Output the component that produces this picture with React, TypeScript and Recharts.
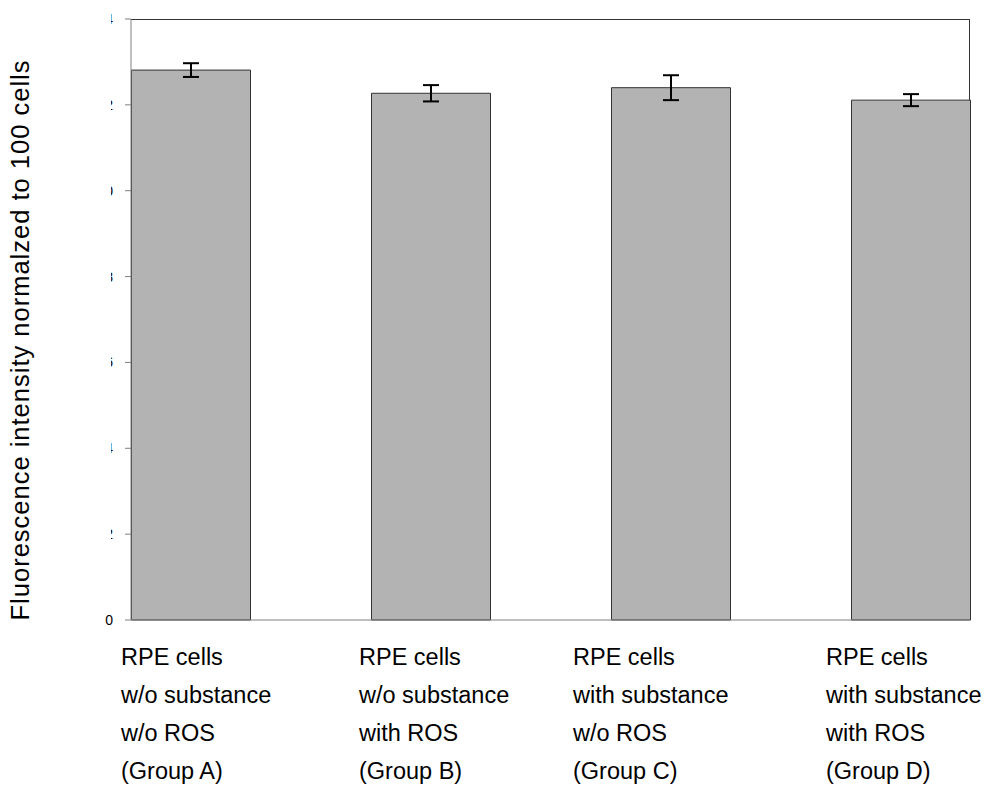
import React from 'react';
import { BarChart, Bar, XAxis, YAxis, ErrorBar } from 'recharts';

const groups = ['Group A', 'Group B', 'Group C', 'Group D'];
const substanceLabels = ['w/o substance', 'w/o substance', 'with substance', 'with substance'];
const rosLabels = ['w/o ROS', 'with ROS', 'w/o ROS', 'with ROS'];
const values = [12.81, 12.27, 12.4, 12.11];
const errors = [0.16, 0.19, 0.29, 0.14];
const yTicks = [0, 2, 4, 6, 8, 10, 12, 14];

const data = groups.map((g, i) => ({
  name: g,
  substance: substanceLabels[i],
  ros: rosLabels[i],
  value: values[i],
  err: errors[i],
}));

const FONT = 'Liberation Sans, Arial, sans-serif';
const labelDx = [-69.5, -71.5, -97.5, -84.5];

const XTick = (props: any) => {
  const { x, index } = props;
  const d = data[index] || data[0];
  const left = x + labelDx[index];
  const lines = ['RPE cells', d.substance, d.ros, '(' + d.name + ')'];
  return (
    <g>
      {lines.map((t, i) => (
        <text key={i} x={left} y={665 + i * 38} fontFamily={FONT} fontSize={23.5} fill="#000">
          {t}
        </text>
      ))}
    </g>
  );
};

const YTick = (props: any) => {
  const { y, payload } = props;
  const v = payload.value;
  if (v === 0) {
    return (
      <text x={113} y={y + 5} textAnchor="end" fontFamily={FONT} fontSize={14} fill="#000">
        {v}
      </text>
    );
  }
  const id = 'yclip' + v;
  return (
    <g>
      <defs>
        <clipPath id={id}>
          <rect x={111} y={y - 10} width={4} height={20} />
        </clipPath>
      </defs>
      <text x={113} y={y + 5} textAnchor="end" fontFamily={FONT} fontSize={14} fill="#000" clipPath={`url(#${id})`}>
        {v}
      </text>
    </g>
  );
};

const YLabel = () => (
  <text
    x={29}
    y={340}
    transform="rotate(-90 29 340)"
    textAnchor="middle"
    fontFamily={FONT}
    fontSize={25.5}
    letterSpacing={1}
    fill="#000"
  >
    Fluorescence intensity normalzed to 100 cells
  </text>
);

export default function App() {
  return (
    <div style={{ position: 'absolute', left: 0, top: 0, background: '#fff' }}>
      <BarChart
        width={986}
        height={793}
        data={data}
        margin={{ top: 19, right: 16, bottom: 0, left: 71 }}
      >
        <XAxis
          dataKey="name"
          padding={{ left: -60.5, right: -60.5 }}
          tick={<XTick />}
          tickLine={false}
          axisLine={{ stroke: '#808080' }}
          interval={0}
          height={173}
        />
        <YAxis
          domain={[0, 14]}
          ticks={yTicks}
          width={60}
          tick={<YTick />}
          tickLine={{ stroke: '#808080' }}
          tickSize={6}
          axisLine={{ stroke: '#808080' }}
          label={<YLabel />}
        />
        <Bar dataKey="value" fill="#b3b3b3" stroke="#333" strokeWidth={1} barSize={119} isAnimationActive={false}>
          <ErrorBar dataKey="err" width={8} stroke="#000" strokeWidth={2} />
        </Bar>
        <line x1={131} y1={19.5} x2={970} y2={19.5} stroke="#333" />
        <line x1={969.5} y1={19} x2={969.5} y2={620} stroke="#333" />
      </BarChart>
    </div>
  );
}
